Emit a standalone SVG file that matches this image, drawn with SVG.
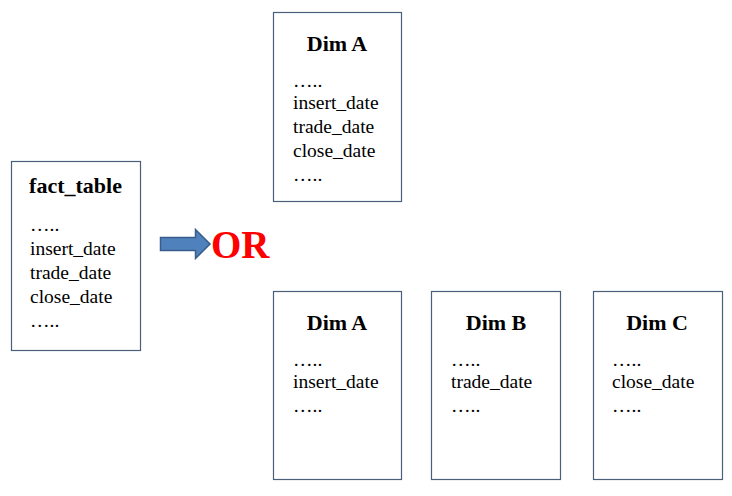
<svg xmlns="http://www.w3.org/2000/svg" width="732" height="496" viewBox="0 0 732 496">
<style>
.box{fill:#fff;stroke:#4a5f7a;stroke-width:1.2}
.t{font-weight:bold;font-size:22px;fill:#000;text-anchor:middle}
.b{font-size:19.5px;fill:#000}
</style>
<rect width="732" height="496" fill="#fff"/>
<g font-family="Liberation Serif">
<g id="fact_table">
<rect class="box" x="11.5" y="161.5" width="129" height="189"/>
<text class="t" x="75.5" y="193">fact_table</text>
<text class="b" x="30" y="231">…..</text>
<text class="b" x="30" y="255">insert_date</text>
<text class="b" x="30" y="279">trade_date</text>
<text class="b" x="30" y="303">close_date</text>
<text class="b" x="30" y="327">…..</text>
</g>
<g id="dimA_top">
<rect class="box" x="273.5" y="12.5" width="128" height="189"/>
<text class="t" x="337" y="51">Dim A</text>
<text class="b" x="293" y="87">…..</text>
<text class="b" x="293" y="109">insert_date</text>
<text class="b" x="293" y="133">trade_date</text>
<text class="b" x="293" y="157">close_date</text>
<text class="b" x="293" y="181">…..</text>
</g>
<g id="dimA">
<rect class="box" x="273.5" y="291.5" width="128" height="188"/>
<text class="t" x="337" y="330">Dim A</text>
<text class="b" x="293" y="366">…..</text>
<text class="b" x="293" y="388">insert_date</text>
<text class="b" x="293" y="412">…..</text>
</g>
<g id="dimB">
<rect class="box" x="431.5" y="291.5" width="129" height="188"/>
<text class="t" x="496" y="330">Dim B</text>
<text class="b" x="451" y="366">…..</text>
<text class="b" x="451" y="388">trade_date</text>
<text class="b" x="451" y="412">…..</text>
</g>
<g id="dimC">
<rect class="box" x="593.5" y="291.5" width="129" height="188"/>
<text class="t" x="657" y="330">Dim C</text>
<text class="b" x="612" y="366">…..</text>
<text class="b" x="612" y="388">close_date</text>
<text class="b" x="612" y="412">…..</text>
</g>
<g id="connectors">
<path d="M160.5,237.5 H195.5 V229.5 L210,244 L195.5,258.5 V250.5 H160.5 Z" fill="#4f81bd" stroke="#385d8a" stroke-width="1.5"/>
<text x="211" y="258" font-weight="bold" font-size="39" fill="#ff0000">OR</text>
</g>
</g>
</svg>
